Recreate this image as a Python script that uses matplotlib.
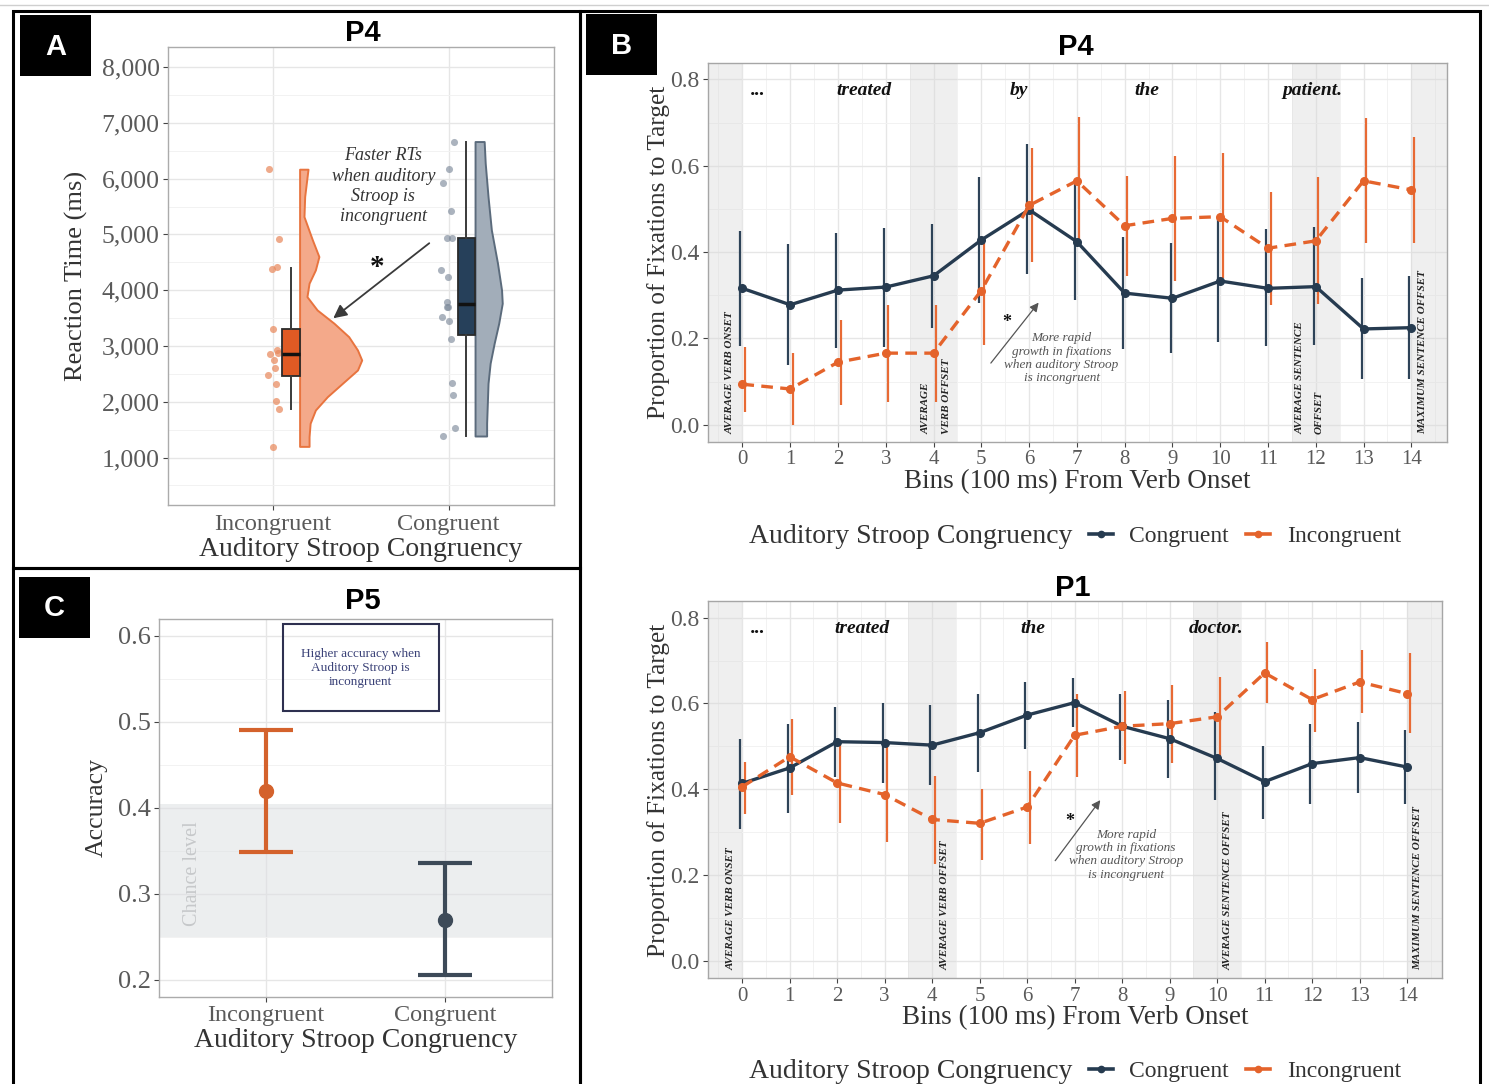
import numpy as np
import matplotlib
matplotlib.use('Agg')
import matplotlib.pyplot as plt
from matplotlib.patches import Rectangle
from matplotlib.lines import Line2D
from matplotlib.ticker import FuncFormatter, FormatStrFormatter

W, H = 1489, 1084
SERIF = ['Liberation Serif', 'DejaVu Serif']
SANS = ['Liberation Sans', 'DejaVu Sans']
plt.rcParams['font.family'] = SERIF

NAVY = '#263B50'
NAVY_BAR = '#2E4358'
ORANGE = '#E4632B'
ORANGE_BAR = '#E86A34'
ORANGE_C = '#D4622C'
TICKC = '#5A5A5A'
LABC = '#333333'

# ---------------- Panel A data (reaction time, P4) ----------------
rt_groups = ['Incongruent', 'Congruent']
rt_ticks = [1000, 2000, 3000, 4000, 5000, 6000, 7000, 8000]
rt_inc_jitter = [-0.023, 0.032, -0.009, 0.019, -0.003, 0.019, -0.019, 0.029, 0.004, 0.010, -0.032, 0.015, 0.015, 0.034, -0.003]
rt_inc_vals = [6170, 4915, 4380, 4410, 3300, 2929, 2851, 2870, 2749, 2600, 2480, 2313, 2019, 1865, 1194]
rt_con_jitter = [0.030, 0.003, -0.031, 0.013, -0.012, 0.017, -0.044, -0.003, -0.012, -0.008, -0.006, -0.037, 0.003, 0.013, 0.020, 0.022, 0.035, -0.035]
rt_con_vals = [6666, 6170, 5919, 5428, 4943, 4943, 4364, 4244, 3785, 3695, 3695, 3516, 3449, 3121, 2331, 2121, 1535, 1386]
rt_inc_box = dict(whislo=1865, q1=2470, med=2850, q3=3305, whishi=4405, fliers=[])
rt_con_box = dict(whislo=1386, q1=3200, med=3755, q3=4940, whishi=6660, fliers=[])
rt_inc_violin_y = [1200, 1373, 1614, 1852, 2091, 2331, 2570, 2749, 2928, 3167, 3408, 3646,
                   3885, 4125, 4364, 4603, 4902, 5320, 5679, 6170]
rt_inc_violin_w = [0.054, 0.054, 0.060, 0.090, 0.158, 0.244, 0.330, 0.354, 0.330, 0.280, 0.196, 0.100,
                   0.042, 0.054, 0.090, 0.110, 0.073, 0.025, 0.029, 0.048]
rt_con_violin_y = [1386, 1614, 1972, 2331, 2690, 3049, 3408, 3766, 4005, 4484, 5081, 5679, 6278, 6666]
rt_con_violin_w = [0.066, 0.066, 0.070, 0.074, 0.086, 0.109, 0.135, 0.155, 0.151, 0.128, 0.093, 0.074, 0.058, 0.052]

# ---------------- Panel C data (accuracy, P5) ----------------
acc_groups = ['Incongruent', 'Congruent']
acc_mean = [0.420, 0.270]
acc_low = [0.349, 0.2055]
acc_high = [0.490, 0.336]
acc_ticks = [0.2, 0.3, 0.4, 0.5, 0.6]
chance_band = (0.25, 0.405)

# ---------------- Panel B data (fixations) ----------------
bins = list(range(15))
p4_con = [0.316, 0.278, 0.312, 0.319, 0.345, 0.428, 0.498, 0.424, 0.305, 0.293, 0.333, 0.316, 0.320, 0.222, 0.225]
p4_con_lo = [0.183, 0.139, 0.177, 0.181, 0.224, 0.283, 0.349, 0.288, 0.175, 0.166, 0.191, 0.183, 0.185, 0.106, 0.106]
p4_con_hi = [0.449, 0.418, 0.445, 0.455, 0.465, 0.573, 0.650, 0.560, 0.434, 0.422, 0.476, 0.453, 0.459, 0.339, 0.345]
p4_inc = [0.094, 0.083, 0.145, 0.166, 0.166, 0.311, 0.508, 0.565, 0.461, 0.478, 0.482, 0.409, 0.426, 0.565, 0.544]
p4_inc_lo = [0.029, 0.000, 0.046, 0.054, 0.054, 0.185, 0.376, 0.428, 0.345, 0.332, 0.339, 0.278, 0.279, 0.420, 0.420]
p4_inc_hi = [0.180, 0.166, 0.243, 0.278, 0.278, 0.422, 0.640, 0.712, 0.576, 0.623, 0.629, 0.538, 0.573, 0.710, 0.667]

p1_con = [0.414, 0.450, 0.511, 0.509, 0.503, 0.532, 0.573, 0.602, 0.547, 0.518, 0.472, 0.418, 0.460, 0.474, 0.452]
p1_con_lo = [0.307, 0.345, 0.428, 0.415, 0.410, 0.441, 0.495, 0.546, 0.469, 0.427, 0.375, 0.332, 0.367, 0.392, 0.367]
p1_con_hi = [0.518, 0.553, 0.592, 0.601, 0.596, 0.623, 0.650, 0.660, 0.623, 0.609, 0.580, 0.501, 0.552, 0.557, 0.538]
p1_inc = [0.406, 0.476, 0.415, 0.388, 0.330, 0.321, 0.359, 0.526, 0.547, 0.553, 0.569, 0.671, 0.609, 0.650, 0.623]
p1_inc_lo = [0.342, 0.386, 0.321, 0.278, 0.227, 0.235, 0.272, 0.429, 0.460, 0.462, 0.476, 0.600, 0.534, 0.577, 0.532]
p1_inc_hi = [0.463, 0.565, 0.514, 0.503, 0.431, 0.402, 0.443, 0.623, 0.629, 0.643, 0.662, 0.743, 0.681, 0.724, 0.718]

p4_words = ['...', 'treated', 'by', 'the', 'patient.']
p4_word_x = [0.34, 2.54, 5.78, 8.47, 11.93]
p1_words = ['...', 'treated', 'the', 'doctor.']
p1_word_x = [0.34, 2.53, 6.12, 9.98]
p4_bands = [(-1.0, 0.0), (3.5, 4.5), (11.5, 12.5), (14.0, 15.0)]
p1_bands = [(-1.0, 0.0), (3.5, 4.5), (9.5, 10.5), (14.0, 15.0)]
p4_marks = ['AVERAGE VERB ONSET', 'AVERAGE', 'VERB OFFSET', 'AVERAGE SENTENCE', 'OFFSET', 'MAXIMUM SENTENCE OFFSET']
p4_mark_x = [-0.26, 3.84, 4.28, 11.68, 12.07, 14.23]
p1_marks = ['AVERAGE VERB ONSET', 'AVERAGE VERB OFFSET', 'AVERAGE SENTENCE OFFSET', 'MAXIMUM SENTENCE OFFSET']
p1_mark_x = [-0.24, 4.28, 10.24, 14.22]

NOTE_B = 'More rapid\ngrowth in fixations\nwhen auditory Stroop\nis incongruent'

fig = plt.figure(figsize=(W / 100, H / 100), dpi=100)


def add_ax(l, t, r, b):
    return fig.add_axes([l / W, 1 - b / H, (r - l) / W, (b - t) / H])


def style_ax(ax, border='#ABABAB'):
    for s in ax.spines.values():
        s.set_color(border)
        s.set_linewidth(1.0)
    ax.set_axisbelow(True)
    ax.tick_params(which='major', direction='out', length=3.5, width=0.8, color='#444444',
                   labelcolor=TICKC, pad=2.5)
    ax.tick_params(which='minor', length=0)
    ax.grid(which='major', color='#E6E6E6', lw=1.0)
    ax.grid(which='minor', color='#F2F2F2', lw=0.7)


def fig_rect(x0, y0, x1, y1, **kw):
    fig.add_artist(Rectangle((x0 / W, 1 - y1 / H), (x1 - x0) / W, (y1 - y0) / H,
                             transform=fig.transFigure, **kw))


def fig_text(x, y, s, **kw):
    fig.text(x / W, 1 - y / H, s, **kw)


# ---------------- frames ----------------
fig.add_artist(Line2D([0, 1], [1 - 5 / H, 1 - 5 / H], transform=fig.transFigure, color='#CFCFCF', lw=1.0))
fig_rect(13, 10.5, 580, 568, fill=False, ec='black', lw=2.2)
fig_rect(13, 568, 580, 1090, fill=False, ec='black', lw=2.2)
fig_rect(580, 10.5, 1479.5, 1090, fill=False, ec='black', lw=2.2)

for (x0, y0, x1, y1, letter) in [(20, 15.5, 91, 76, 'A'), (586, 14, 657, 75, 'B'), (19, 577, 90, 638, 'C')]:
    fig_rect(x0, y0, x1, y1, fc='black', ec='black', lw=0)
    fig_text((x0 + x1) / 2, (y0 + y1) / 2 + 1, letter, color='white', fontsize=21, fontweight='bold',
             family=SANS, ha='center', va='center')

for (x, y, t) in [(362.6, 33, 'P4'), (362.6, 601, 'P5'), (1075.7, 47, 'P4'), (1073, 588, 'P1')]:
    fig_text(x, y, t, fontsize=21, fontweight='bold', family=SANS, ha='center', va='center', color='black')

# ---------------- Panel A ----------------
axA = add_ax(168, 46.5, 554, 505.5)
style_ax(axA)
axA.set_xlim(0.4, 2.6)
axA.set_ylim(140, 8370)
axA.set_yticks(rt_ticks)
axA.yaxis.set_major_formatter(FuncFormatter(lambda v, p: f'{int(v):,}'))
axA.set_yticks(np.arange(500, 8001, 1000), minor=True)
axA.set_xticks([1, 2])
axA.set_xticklabels(rt_groups)
axA.tick_params(axis='y', labelsize=18.5)
axA.tick_params(axis='x', labelsize=17.5)

pos = [1, 2]
viol = [(rt_inc_violin_y, rt_inc_violin_w, '#F4A98A', '#E8743F'),
        (rt_con_violin_y, rt_con_violin_w, '#A2ADB9', '#5B6B7C')]
for p, (vy, vw, fc, ec) in zip(pos, viol):
    x0 = p + 0.15
    axA.fill_betweenx(vy, x0, x0 + np.array(vw), facecolor=fc, edgecolor=ec, lw=1.4, zorder=2)

axA.scatter(1 + np.array(rt_inc_jitter), rt_inc_vals, s=26, color='#E8875A', alpha=0.7, lw=0, zorder=3)
axA.scatter(2 + np.array(rt_con_jitter), rt_con_vals, s=26, color='#7E8B9B', alpha=0.65, lw=0, zorder=3)

for p, st, fc in [(1, rt_inc_box, '#E05A24'), (2, rt_con_box, '#26405A')]:
    axA.bxp([st], positions=[p + 0.1], widths=0.1, patch_artist=True, showfliers=False, showcaps=False,
            boxprops=dict(facecolor=fc, edgecolor='#2A2A2A', lw=1.3),
            medianprops=dict(color='#111111', lw=2.5),
            whiskerprops=dict(color='#3A3A3A', lw=1.4), manage_ticks=False, zorder=4)

axA.text(1.627, 5865, 'Faster RTs\nwhen auditory\nStroop is\nincongruent', ha='center', va='center',
         fontsize=13, fontstyle='italic', color='#333333', linespacing=1.25, zorder=5)
axA.text(1.589, 4265, '*', ha='center', va='baseline', fontsize=21, fontweight='bold', color='#111111', zorder=5)
axA.annotate('', xy=(1.342, 3497), xytext=(1.889, 4843),
             arrowprops=dict(arrowstyle='-|>', color='#3A3A3A', lw=1.3, mutation_scale=20,
                             shrinkA=0, shrinkB=0), zorder=5)
axA.set_ylabel('Reaction Time (ms)', fontsize=19, color=LABC, ha='center', va='center')
axA.yaxis.set_label_coords(-0.238, 0.501)
axA.set_xlabel('Auditory Stroop Congruency', fontsize=20, color=LABC, ha='center', va='center')
axA.xaxis.set_label_coords(0.5, -0.095)

# ---------------- Panel C ----------------
axC = add_ax(159, 619.3, 552, 996.7)
style_ax(axC)
axC.set_xlim(0.4, 2.6)
axC.set_ylim(0.1806, 0.619)
axC.set_yticks(acc_ticks)
axC.yaxis.set_major_formatter(FormatStrFormatter('%.1f'))
axC.set_yticks(np.arange(0.25, 0.61, 0.1), minor=True)
axC.set_xticks([1, 2])
axC.set_xticklabels(acc_groups)
axC.tick_params(axis='y', labelsize=19)
axC.tick_params(axis='x', labelsize=17.5)
axC.axhspan(chance_band[0], chance_band[1], facecolor='#DDE0E3', alpha=0.55, lw=0, zorder=1)
axC.text(0.585, 0.324, 'Chance level', rotation=90, ha='center', va='center', fontsize=14.5,
         color='#C6C8CA', zorder=2)
for i, c in enumerate([ORANGE_C, '#3D4A58']):
    axC.errorbar([i + 1], [acc_mean[i]], yerr=[[acc_mean[i] - acc_low[i]], [acc_high[i] - acc_mean[i]]],
                 fmt='o', color=c, ms=10, elinewidth=3, capsize=19.3, capthick=3, zorder=4)
axC.add_patch(Rectangle((1.093, 0.513), 0.874, 0.100, fill=False, ec='#2E3050', lw=1.5, zorder=5))
axC.text(1.527, 0.5625, 'Higher accuracy when\nAuditory Stroop is\nincongruent', ha='center', va='center',
         fontsize=9.5, color='#3B4278', linespacing=1.23, zorder=5)
axC.set_ylabel('Accuracy', fontsize=18.5, color=LABC, ha='center', va='center')
axC.yaxis.set_label_coords(-0.158, 0.501)
axC.set_xlabel('Auditory Stroop Congruency', fontsize=20, color=LABC, ha='center', va='center')
axC.xaxis.set_label_coords(0.5, -0.115)


# ---------------- Panel B ----------------
def draw_b(ax, con, con_lo, con_hi, inc, inc_lo, inc_hi, words, word_x, bands, marks, mark_x,
           star, arrow_tail, arrow_head, note_xy, legend_y):
    style_ax(ax, border='#A6A6A6')
    ax.set_xlim(-0.73, 14.74)
    ax.set_ylim(-0.04, 0.839)
    ax.set_xticks(bins)
    ax.set_xticks(np.arange(-0.5, 15, 1.0), minor=True)
    ax.set_yticks([0.0, 0.2, 0.4, 0.6, 0.8])
    ax.set_yticks([0.1, 0.3, 0.5, 0.7], minor=True)
    ax.yaxis.set_major_formatter(FormatStrFormatter('%.1f'))
    ax.tick_params(axis='y', labelsize=17)
    ax.tick_params(axis='x', labelsize=15)
    for (a, b) in bands:
        ax.axvspan(a, b, facecolor='#D8D8D8', alpha=0.4, lw=0, zorder=1)
    x = np.array(bins)
    ax.vlines(x - 0.04, con_lo, con_hi, color=NAVY_BAR, lw=1.6, zorder=3)
    ax.vlines(x + 0.055, inc_lo, inc_hi, color=ORANGE_BAR, lw=1.6, zorder=3)
    ax.plot(x, con, color=NAVY, lw=2.4, marker='o', ms=5.5, zorder=4)
    ax.plot(x, inc, color=ORANGE, lw=2.4, ls=(0, (3.5, 2.2)), marker='o', ms=5.5, zorder=4)
    for w, wx in zip(words, word_x):
        ax.text(wx, 0.775, w, ha='center', va='center', fontsize=14, fontweight='bold',
                fontstyle='italic', color='#111111', zorder=5)
    for m, mx in zip(marks, mark_x):
        ax.text(mx, -0.021, m, rotation=90, rotation_mode='anchor', ha='left', va='center',
                fontsize=8, fontweight='bold', fontstyle='italic', color='#222222', zorder=5)
    ax.text(star[0], star[1], '*', ha='center', va='baseline', fontsize=13, fontweight='bold',
            color='#111111', zorder=5)
    ax.annotate('', xy=arrow_head, xytext=arrow_tail,
                arrowprops=dict(arrowstyle='-|>', color='#555555', lw=0.9, mutation_scale=13,
                                shrinkA=0, shrinkB=0), zorder=5)
    ax.text(note_xy[0], note_xy[1], NOTE_B, ha='center', va='center', fontsize=9.5, fontstyle='italic',
            color='#555555', linespacing=1.16, zorder=5)
    ax.set_ylabel('Proportion of Fixations to Target', fontsize=18.3, color=LABC, ha='center', va='center')
    ax.yaxis.set_label_coords(-0.0666, 0.499)
    ax.set_xlabel('Bins (100 ms) From Verb Onset', fontsize=19.5, color=LABC, ha='center', va='center')
    ax.xaxis.set_label_coords(0.5, -0.105)
    # legend
    fig_text(748.7, legend_y, 'Auditory Stroop Congruency', fontsize=20, color=LABC, ha='left', va='center')
    handles = [Line2D([], [], color=NAVY, lw=2.6, marker='o', ms=4.5),
               Line2D([], [], color=ORANGE, lw=2.6, marker='o', ms=4.5)]
    fig.legend(handles, ['Congruent', 'Incongruent'], loc='center left',
               bbox_to_anchor=(1089 / W, 1 - legend_y / H), ncol=2, frameon=False,
               prop=dict(family=SERIF, size=17), handlelength=1.0, handletextpad=0.7,
               columnspacing=0.75, borderpad=0, borderaxespad=0, labelcolor=LABC)


axB1 = add_ax(707.5, 62.5, 1446.7, 442.1)
draw_b(axB1, p4_con, p4_con_lo, p4_con_hi, p4_inc, p4_inc_lo, p4_inc_hi,
       p4_words, p4_word_x, p4_bands, p4_marks, p4_mark_x,
       star=(5.53, 0.226), arrow_tail=(5.20, 0.143), arrow_head=(6.20, 0.283),
       note_xy=(6.68, 0.154), legend_y=536.5)

axB2 = add_ax(707.5, 600.8, 1442.3, 978.4)
draw_b(axB2, p1_con, p1_con_lo, p1_con_hi, p1_inc, p1_inc_lo, p1_inc_hi,
       p1_words, p1_word_x, p1_bands, p1_marks, p1_mark_x,
       star=(6.89, 0.315), arrow_tail=(6.59, 0.234), arrow_head=(7.54, 0.375),
       note_xy=(8.08, 0.248), legend_y=1071)

fig.savefig('out.png', dpi=100)
